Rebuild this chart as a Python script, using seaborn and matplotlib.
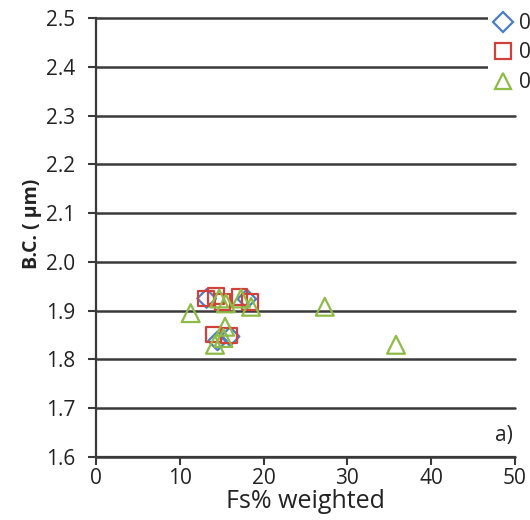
import matplotlib
matplotlib.use("Agg")
import matplotlib.pyplot as plt
from matplotlib.lines import Line2D
import seaborn as sns

# Series labels
labels = ["0.5 mm", "0.7 mm", "0.9 mm"]

# Fs% weighted (x) and B.C. in um (y) for each series
fs_a = [13.2, 18.0, 14.5, 16.0]
bc_a = [1.925, 1.924, 1.838, 1.847]

fs_b = [13.1, 14.3, 15.1, 17.1, 18.4, 14.0, 15.9]
bc_b = [1.925, 1.930, 1.918, 1.928, 1.918, 1.851, 1.849]

fs_c = [11.3, 14.7, 15.5, 17.3, 18.5, 15.4, 14.2, 15.2, 27.3, 35.8]
bc_c = [1.895, 1.925, 1.915, 1.925, 1.908, 1.867, 1.830, 1.844, 1.908, 1.830]

x_ticks = [0, 10, 20, 30, 40, 50]
y_ticks = [1.6, 1.7, 1.8, 1.9, 2.0, 2.1, 2.2, 2.3, 2.4, 2.5]

sns.set_style("ticks")
plt.rcParams["font.family"] = ["Open Sans", "DejaVu Sans"]

colors = ["#4A7EC6", "#D2403B", "#8DBB45"]
markers = ["D", "s", "^"]
sizes = [90, 125, 165]
ink = "#3a3a3a"

fig = plt.figure(figsize=(5.3, 5.2), dpi=100)
ax = fig.add_axes([96 / 530, 63 / 520, 419 / 530, 439 / 520])

series = [(fs_a, bc_a), (fs_b, bc_b), (fs_c, bc_c)]
for (xs, ys), col, mk, sz in zip(series, colors, markers, sizes):
    sns.scatterplot(x=xs, y=ys, ax=ax, marker=mk, s=sz, color=col,
                    facecolor="none", edgecolor=col, linewidth=1.6,
                    zorder=3)

ax.set_xlim(0, 50)
ax.set_ylim(1.6, 2.5)
ax.set_xticks(x_ticks)
ax.set_yticks(y_ticks)
ax.set_xticklabels([str(v) for v in x_ticks])
ax.set_yticklabels([f"{v:.1f}" for v in y_ticks])

ax.set_axisbelow(True)
ax.yaxis.grid(True, color=ink, linewidth=1.8)
for gl in ax.get_ygridlines():
    gl.set_clip_on(False)

for side in ["top", "right"]:
    ax.spines[side].set_visible(False)
for side in ["left", "bottom"]:
    ax.spines[side].set_color(ink)
    ax.spines[side].set_linewidth(1.6)

ax.tick_params(axis="both", direction="out", length=6, width=1.5,
               color=ink, labelsize=15, labelcolor="#222222")
ax.tick_params(axis="y", pad=9)
ax.tick_params(axis="x", pad=2)

ax.set_xlabel("Fs% weighted", fontsize=18, color="#222222", labelpad=0)
ax.set_ylabel("B.C. ( \u03bcm)", fontsize=14, fontweight="bold",
              color="#222222")
ax.yaxis.set_label_coords(-0.13, 0.53)

ax.text(0.995, 0.05, "a)", transform=ax.transAxes, ha="right",
        va="center", fontsize=15, color="#222222")

handles = [Line2D([], [], linestyle="none", marker=mk, markersize=ms,
                  markerfacecolor="none", markeredgecolor=col,
                  markeredgewidth=1.6)
           for mk, col, ms in zip(markers, colors, [10, 11, 12])]
leg = fig.legend(handles, labels, loc="upper left",
                 bbox_to_anchor=(488 / 530, 1.0 - 9 / 520),
                 frameon=True, fontsize=15, handlelength=1.0,
                 handletextpad=0.3, borderpad=0.2, labelspacing=0.4,
                 borderaxespad=0)
leg.get_frame().set_facecolor("white")
leg.get_frame().set_edgecolor("none")
leg.get_frame().set_alpha(1.0)
leg.set_zorder(10)
for t in leg.get_texts():
    t.set_color("#222222")

fig.savefig("out.png", dpi=100)
